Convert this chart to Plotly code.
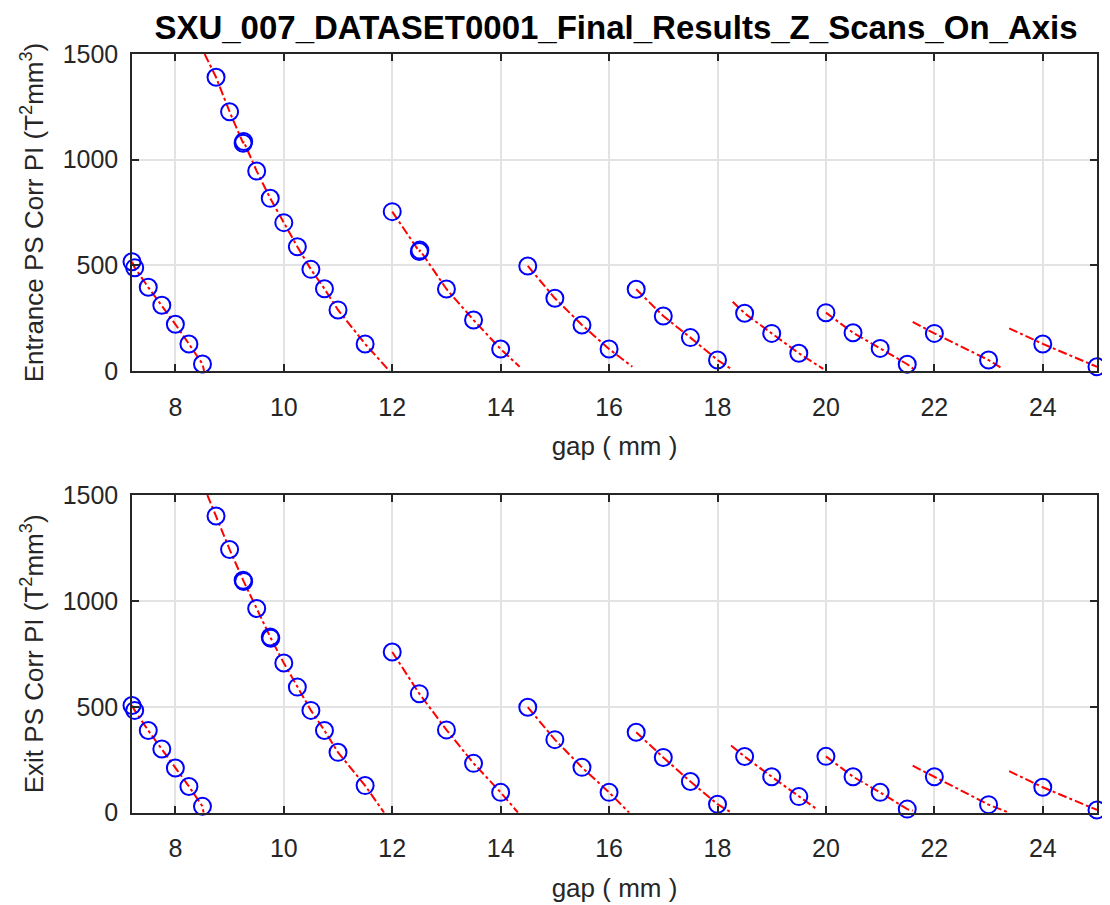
import plotly.graph_objects as go

# ---------------- data ----------------
entrance_gap = [
    [7.2, 7.25, 7.5, 7.75, 8.0, 8.25, 8.5],
    [8.75, 9.0, 9.25, 9.26, 9.5, 9.75, 10.0, 10.25, 10.5, 10.75, 11.0, 11.5],
    [12.0, 12.5, 12.51, 13.0, 13.5, 14.0],
    [14.5, 15.0, 15.5, 16.0],
    [16.5, 17.0, 17.5, 18.0],
    [18.5, 19.0, 19.5],
    [20.0, 20.5, 21.0, 21.5],
    [22.0, 23.0],
    [24.0, 25.0],
]
entrance_pi = [
    [517, 489, 396, 311, 221, 128, 33],
    [1390, 1227, 1078, 1086, 946, 817, 702, 588, 481, 389, 289, 128],
    [754, 565, 572, 388, 241, 104],
    [497, 344, 218, 104],
    [387, 260, 158, 52],
    [273, 178, 84],
    [276, 181, 107, 32],
    [178, 52],
    [128, 20],
]
# fitted-line extensions before the first / after the last point of each scan
entrance_fit_start = [None, (8.54, 1500), None, None, None, (18.28, 328), None, (21.6, 233), (23.38, 202)]
entrance_fit_end = [(8.53, 0), (11.95, 0), (14.35, 20), (16.43, 20), (18.28, 5), (19.95, 10), (21.66, 1), (23.22, 17), None]

exit_gap = [
    [7.2, 7.25, 7.5, 7.75, 8.0, 8.25, 8.5],
    [8.75, 9.0, 9.25, 9.26, 9.5, 9.75, 9.76, 10.0, 10.25, 10.5, 10.75, 11.0, 11.5],
    [12.0, 12.5, 13.0, 13.5, 14.0],
    [14.5, 15.0, 15.5, 16.0],
    [16.5, 17.0, 17.5, 18.0],
    [18.5, 19.0, 19.5],
    [20.0, 20.5, 21.0, 21.5],
    [22.0, 23.0],
    [24.0, 25.0],
]
exit_pi = [
    [506, 483, 388, 301, 211, 124, 30],
    [1401, 1243, 1098, 1092, 964, 830, 824, 707, 593, 483, 388, 285, 128],
    [759, 562, 391, 233, 96],
    [498, 345, 214, 96],
    [380, 261, 147, 40],
    [265, 170, 76],
    [266, 170, 96, 17],
    [170, 38],
    [120, 13],
]
exit_fit_start = [None, (8.59, 1500), None, None, None, (18.25, 317), None, (21.6, 222), (23.38, 196)]
exit_fit_end = [(8.52, 0), (11.85, 0), (14.32, 0), (16.37, 0), (18.26, 0), (19.83, 17), (21.6, 9), (23.38, 0), None]

x_ticks = [8, 10, 12, 14, 16, 18, 20, 22, 24]
y_ticks = [0, 500, 1000, 1500]

title_text = "SXU_007_DATASET0001_Final_Results_Z_Scans_On_Axis"
entrance_label = "Entrance PS Corr PI (T<sup>2</sup>mm<sup>3</sup>)"
exit_label = "Exit PS Corr PI (T<sup>2</sup>mm<sup>3</sup>)"
x_label = "gap ( mm )"

# ---------------- build ----------------
FONT = "Liberation Sans, Arial, sans-serif"
TXT = "#262626"

# the page body has an 8px margin: size the figure so it fills the window
W, H, OFF = 1102, 897, 8


def px(X):
    return (X - OFF) / W


def py(Y):
    return 1 - (Y - OFF) / H


def line_arrays(gaps, vals, starts, ends):
    lx, ly = [], []
    for g, v, s, e in zip(gaps, vals, starts, ends):
        if s is not None:
            lx.append(s[0]); ly.append(s[1])
        lx += g; ly += v
        if e is not None:
            lx.append(e[0]); ly.append(e[1])
        lx.append(None); ly.append(None)
    return lx, ly


def flat(lists):
    out = []
    for l in lists:
        out += l
    return out


fig = go.Figure()
for gaps, vals, starts, ends, xa, ya in [
    (entrance_gap, entrance_pi, entrance_fit_start, entrance_fit_end, "x", "y"),
    (exit_gap, exit_pi, exit_fit_start, exit_fit_end, "x2", "y2"),
]:
    lx, ly = line_arrays(gaps, vals, starts, ends)
    fig.add_trace(go.Scatter(x=lx, y=ly, mode="lines", xaxis=xa, yaxis=ya,
                             line=dict(color="#ff0000", width=2, dash="dashdot"),
                             connectgaps=False, showlegend=False, hoverinfo="skip"))
    fig.add_trace(go.Scatter(x=flat(gaps), y=flat(vals), mode="markers", xaxis=xa, yaxis=ya,
                             marker=dict(symbol="circle-open", size=17, color="#0000ff",
                                         line=dict(width=2, color="#0000ff")),
                             showlegend=False, cliponaxis=False))

xdom = [px(132), px(1097)]
ydom_top = [py(371), py(54)]
ydom_bot = [py(812.7), py(495)]

axis_common = dict(
    showline=True, linecolor=TXT, linewidth=1.5, mirror="ticks",
    ticks="inside", ticklen=7, tickwidth=1.5, tickcolor=TXT,
    showgrid=True, gridcolor="#e3e3e3", gridwidth=1.5, zeroline=False,
    tickfont=dict(family=FONT, size=25, color=TXT), automargin=False,
)

xaxis_common = dict(axis_common, range=[7.2, 25], tickvals=x_ticks, ticktext=[str(t) for t in x_ticks],
                    domain=xdom, ticklabelstandoff=13,
                    title=dict(text=x_label, font=dict(family=FONT, size=26, color=TXT), standoff=17))
yaxis_common = dict(axis_common, range=[0, 1500], tickvals=y_ticks, ticktext=[str(t) for t in y_ticks],
                    ticklabelstandoff=7)

fig.update_layout(
    width=W, height=H,
    margin=dict(l=0, r=0, t=0, b=0, autoexpand=False),
    paper_bgcolor="white", plot_bgcolor="white",
    xaxis=dict(xaxis_common, anchor="y"),
    yaxis=dict(yaxis_common, domain=ydom_top, anchor="x",
               title=dict(text=entrance_label, font=dict(family=FONT, size=26, color=TXT), standoff=12)),
    xaxis2=dict(xaxis_common, anchor="y2"),
    yaxis2=dict(yaxis_common, domain=ydom_bot, anchor="x2",
                title=dict(text=exit_label, font=dict(family=FONT, size=26, color=TXT), standoff=12)),
    title=dict(text="<b>" + title_text + "</b>", x=px(616), xanchor="center",
               y=py(27), yanchor="middle", font=dict(family=FONT, size=33, color="#000000")),
)

fig.write_html("out.html")
